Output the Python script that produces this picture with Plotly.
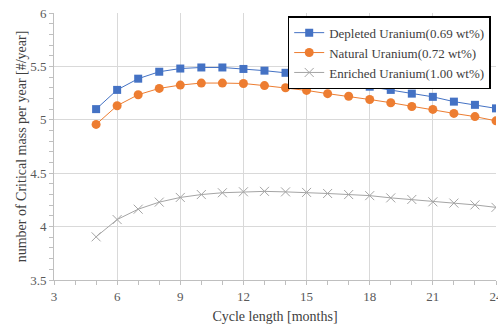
import plotly.graph_objects as go

cycle = list(range(5, 25))
depleted = [5.10, 5.28, 5.385, 5.45, 5.48, 5.49, 5.49, 5.476, 5.46, 5.44, 5.41, 5.375,
            5.35, 5.31, 5.28, 5.245, 5.215, 5.17, 5.14, 5.107]
natural = [4.957, 5.132, 5.235, 5.294, 5.325, 5.344, 5.344, 5.34, 5.32, 5.30, 5.275, 5.245,
           5.22, 5.19, 5.16, 5.125, 5.097, 5.06, 5.03, 4.99]
enriched = [3.904, 4.066, 4.163, 4.229, 4.273, 4.30, 4.317, 4.326, 4.33, 4.325, 4.32, 4.31,
            4.30, 4.29, 4.269, 4.254, 4.232, 4.22, 4.203, 4.18]
names = ["Depleted Uranium(0.69 wt%)", "Natural Uranium(0.72 wt%)", "Enriched Uranium(1.00 wt%)"]

FONT = "Liberation Serif, Times New Roman, serif"

fig = go.Figure()
fig.add_trace(go.Scatter(x=cycle, y=depleted, name=names[0], mode="lines+markers",
                         line=dict(color="#4472C4", width=1),
                         marker=dict(symbol="square", size=8, color="#4472C4")))
fig.add_trace(go.Scatter(x=cycle, y=natural, name=names[1], mode="lines+markers",
                         line=dict(color="#ED7D31", width=1),
                         marker=dict(symbol="circle", size=9, color="#ED7D31")))
fig.add_trace(go.Scatter(x=cycle, y=enriched, name=names[2], mode="lines+markers",
                         line=dict(color="#A5A5A5", width=1),
                         marker=dict(symbol="x-thin", size=9, color="#A5A5A5",
                                     line=dict(color="#A5A5A5", width=1))))

fig.update_layout(
    width=498, height=327,
    margin=dict(l=54, r=2, t=13, b=47, autoexpand=False),
    paper_bgcolor="white", plot_bgcolor="white",
    font=dict(family=FONT, size=13, color="#595959"),
    showlegend=True,
    legend=dict(x=0.988, y=0.988, xanchor="right", yanchor="top",
                bgcolor="white", bordercolor="black", borderwidth=1.5,
                font=dict(family=FONT, size=13, color="#404040"),
                tracegroupgap=0),
    xaxis=dict(range=[3, 24], tickvals=[3, 6, 9, 12, 15, 18, 21, 24],
               automargin=False, ticklabeloverflow="allow",
               showgrid=True, gridcolor="#D9D9D9", gridwidth=1,
               showline=True, linecolor="#BFBFBF", linewidth=1,
               ticks="outside", ticklen=4, tickcolor="#BFBFBF",
               minor=dict(dtick=1, ticks="outside", ticklen=4, tickcolor="#BFBFBF", showgrid=False),
               zeroline=False,
               tickfont=dict(family=FONT, size=13, color="#595959"),
               title=dict(text="Cycle length [months]", standoff=8,
                          font=dict(family=FONT, size=14, color="#404040"))),
    yaxis=dict(range=[3.5, 6], tickvals=[3.5, 4, 4.5, 5, 5.5, 6],
               ticktext=["3.5", "4", "4.5", "5", "5.5", "6"],
               automargin=False, ticklabeloverflow="allow",
               showgrid=True, gridcolor="#D9D9D9", gridwidth=1,
               showline=True, linecolor="#BFBFBF", linewidth=1,
               ticks="outside", ticklen=4, tickcolor="#BFBFBF",
               minor=dict(dtick=0.1, ticks="outside", ticklen=4, tickcolor="#BFBFBF", showgrid=False),
               zeroline=False,
               tickfont=dict(family=FONT, size=13, color="#595959"),
               title=dict(text="number of Critical mass per year [#/year]", standoff=0,
                          font=dict(family=FONT, size=14, color="#404040"))),
)

fig.write_html("out.html", config={"displayModeBar": False},
               post_script="document.body.style.margin='0';document.body.style.overflow='hidden';")
